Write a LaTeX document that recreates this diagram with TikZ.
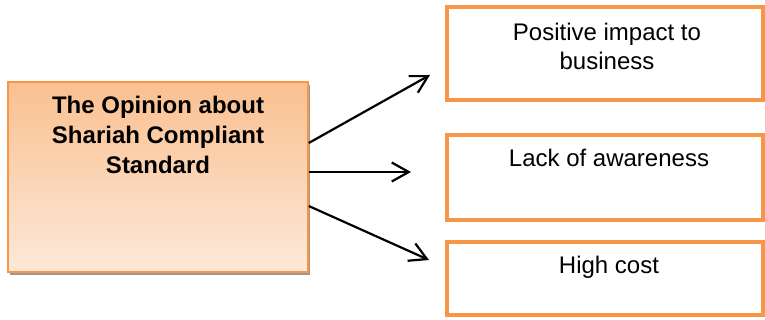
\documentclass[tikz,border=0pt]{standalone}
\usepackage{fontspec}
\setmainfont{Liberation Sans}
\usetikzlibrary{arrows.meta,positioning,shadows}
\definecolor{accentorange}{HTML}{F79646}
\definecolor{shadetop}{HTML}{FAC090}
\definecolor{shadebottom}{HTML}{FDE9D9}

\begin{document}
\begin{tikzpicture}[
  x=1pt, y=1pt,
  node distance=16pt,
  opinion/.style={draw=accentorange, line width=1.5pt, top color=shadetop, bottom color=shadebottom,
    minimum width=300pt, minimum height=190pt, inner sep=0pt,
    drop shadow={shadow xshift=2pt, shadow yshift=-3pt, fill=gray!80, opacity=1}},
  result/.style={draw=accentorange, line width=4.5pt, minimum width=316pt, inner sep=0pt},
  boxtext/.style={font=\fontsize{24}{29}\selectfont, align=center, inner sep=0pt},
  link/.style={-{Straight Barb[length=17pt,width=19pt]}, line width=2.2pt}
]
\useasboundingbox (0,0) rectangle (765,-320);

% left box
\node[opinion] (op) at (158,-177) {};
\node[boxtext, font=\fontsize{24}{30}\selectfont\bfseries, below=15pt of op.north] (optext)
  {The Opinion about\\Shariah Compliant\\Standard};

% right boxes
\node[result, minimum height=93pt] (pos) at (605,-53.5) {};
\node[result, minimum height=85pt] (lack) at (605,-177.5) {};
\node[result, minimum height=73pt] (cost) at (605,-278.5) {};

\node[boxtext, below=18pt of pos.north, xshift=2pt] (postext) {Positive impact to\\business};
\node[boxtext, below=16pt of lack.north, xshift=4pt] (lacktext) {Lack of awareness};
\node[boxtext, below=16pt of cost.north, xshift=4pt] (costtext) {High cost};

% arrow ends
\coordinate (toPos) at (430,-75);
\coordinate (toLack) at (411,-172);
\coordinate (toCost) at (429,-260);

\draw[link] ([yshift=34pt]op.east) -- (toPos);
\draw[link] ([yshift=5pt]op.east) -- (toLack);
\draw[link] ([yshift=-29pt]op.east) -- (toCost);

\end{tikzpicture}
\end{document}
